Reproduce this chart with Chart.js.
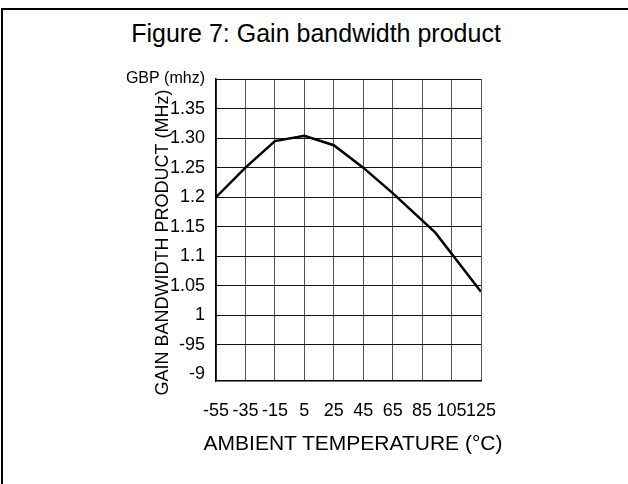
<!DOCTYPE html>
<html lang="en">
<head>
    <meta charset="UTF-8">
    <title>Figure 7: Gain bandwidth product</title>
    <script src="https://cdn.jsdelivr.net/npm/chart.js"></script>
    <style>
        body {
            margin: 0;
            background: #fff;
        }
        .frame {
            position: relative;
            width: 628px;
            height: 484px;
            overflow: hidden;
            font-family: "Liberation Sans", Arial, Helvetica, sans-serif;
            color: #000;
        }
        .frame-border {
            position: absolute;
            left: 1px;
            top: 8px;
            width: 700px;
            height: 600px;
            border-top: 2px solid #000;
            border-left: 2px solid #000;
            pointer-events: none;
        }
        .fig-title {
            position: absolute;
            left: 0;
            top: 18px;
            width: 632px;
            margin: 0;
            text-align: center;
            font-size: 25px;
            font-weight: normal;
            line-height: 30px;
        }
        .x-title {
            position: absolute;
            left: 353px;
            top: 431px;
            transform: translateX(-50%);
            white-space: nowrap;
            font-size: 21px;
            line-height: 24px;
        }
        canvas {
            position: absolute;
            left: 0;
            top: 0;
        }
    </style>
</head>
<body>
    <div class="frame">
        <div class="frame-border"></div>
        <h1 class="fig-title">Figure 7: Gain bandwidth product</h1>
        <canvas id="gbpChart" width="628" height="484"></canvas>
        <div class="x-title">AMBIENT TEMPERATURE (°C)</div>
    </div>

    <script>
        // ambient temperature (°C) and gain bandwidth product (MHz)
        const temps = [-55, -35, -15, 5, 25, 45, 65, 94, 125];
        const gbp = [1.2, 1.25, 1.295, 1.304, 1.288, 1.25, 1.207, 1.14, 1.04];

        // axis ticks as printed on the original figure
        const xTicks = [-55, -35, -15, 5, 25, 45, 65, 85, 105, 125];
        const yTicks = [1.40, 1.35, 1.30, 1.25, 1.20, 1.15, 1.10, 1.05, 1.00, 0.95, 0.90];
        const yTickLabels = ['GBP (mhz)', '1.35', '1.30', '1.25', '1.2', '1.15', '1.1', '1.05', '1', '-95', '-9'];

        const font = '"Liberation Sans", Arial, Helvetica, sans-serif';

        function yLabel(value) {
            const i = yTicks.findIndex(v => Math.abs(v - value) < 0.001);
            return i >= 0 ? yTickLabels[i] : '';
        }

        const ctx = document.getElementById('gbpChart').getContext('2d');
        new Chart(ctx, {
            type: 'line',
            data: {
                datasets: [{
                    label: 'GBP',
                    data: temps.map((t, i) => ({ x: t, y: gbp[i] })),
                    borderColor: '#000',
                    borderWidth: 2.5,
                    pointRadius: 0,
                    tension: 0,
                    fill: false
                }]
            },
            options: {
                responsive: false,
                animation: false,
                devicePixelRatio: 1,
                layout: {
                    padding: { left: 118, right: 147, top: 79, bottom: 0 }
                },
                plugins: {
                    legend: { display: false },
                    tooltip: { enabled: false },
                    title: { display: false }
                },
                scales: {
                    x: {
                        type: 'linear',
                        min: -55,
                        max: 125,
                        afterBuildTicks: scale => {
                            scale.ticks = xTicks.map(v => ({ value: v }));
                        },
                        afterFit: scale => { scale.height = 103; },
                        ticks: {
                            color: '#000',
                            padding: 19,
                            maxRotation: 0,
                            autoSkip: false,
                            font: { family: font, size: 18 },
                            callback: v => String(v)
                        },
                        grid: {
                            color: '#555',
                            lineWidth: 1,
                            drawTicks: false
                        },
                        border: { color: '#000', width: 1.5 }
                    },
                    y: {
                        type: 'linear',
                        min: 0.889,
                        max: 1.40,
                        afterBuildTicks: scale => {
                            scale.ticks = yTicks.map(v => ({ value: v }));
                        },
                        afterFit: scale => { scale.width = 98; },
                        ticks: {
                            color: '#000',
                            padding: 11,
                            autoSkip: false,
                            // the unit label on the top line is set a little smaller
                            font: c => ({ family: font, size: (c.tick && c.tick.value > 1.39) ? 16 : 18 }),
                            callback: v => yLabel(v)
                        },
                        grid: {
                            color: c => (c.tick && Math.abs(c.tick.value - 0.90) < 0.001) ? 'rgba(0,0,0,0)' : '#111',
                            lineWidth: 1,
                            drawTicks: false
                        },
                        border: { color: '#000', width: 1.5 },
                        title: {
                            display: true,
                            // trailing spaces nudge the centred title down, as in the original
                            text: 'GAIN BANDWIDTH PRODUCT (MHz)     ',
                            color: '#000',
                            font: { family: font, size: 18 },
                            padding: { top: 34, bottom: 0 }
                        }
                    }
                }
            }
        });
    </script>
</body>
</html>
